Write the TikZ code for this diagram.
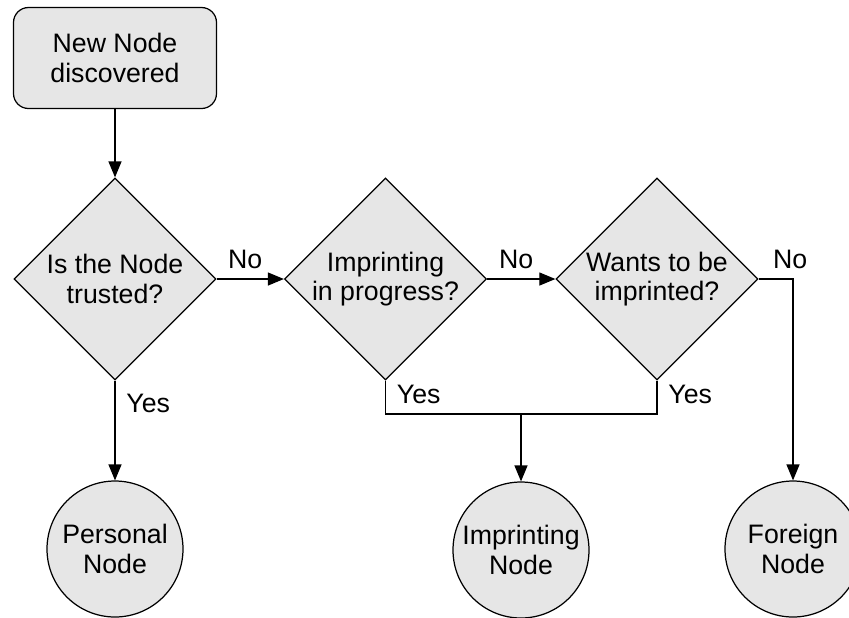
\documentclass[tikz,border=0pt]{standalone}
\usepackage{fontspec}
\setmainfont{Liberation Sans}
\usepackage{tikz}
\definecolor{flowgray}{RGB}{230,230,230}
\usetikzlibrary{arrows.meta,positioning,shapes.geometric,calc}

\begin{document}
\begin{tikzpicture}[line width=0.7pt, >={Triangle[length=0.32cm,width=0.26cm]},
  every node/.style={font=\fontsize{15.2}{16.6}\selectfont},
  startbox/.style={draw, fill=flowgray, rounded corners=0.3cm, minimum width=4.06cm, minimum height=2.02cm, align=center},
  decision/.style={draw, diamond, fill=flowgray, minimum width=4.04cm, minimum height=4.04cm, inner sep=0pt, align=center},
  endnode/.style={draw, circle, fill=flowgray, minimum size=2.72cm, inner sep=0pt, align=center}]
\useasboundingbox (0,0) rectangle (16.98,-12.34);
% Start
\node[startbox] (start) at (2.3,-1.16) {New Node\\discovered};
% Decisions
\node[decision] (trusted) at (2.3,-5.58) {Is the Node\\trusted?};
\node[decision] (inprog) at (7.71,-5.58) {Imprinting\\in progress?};
\node[decision] (wants) at (13.14,-5.58) {Wants to be\\imprinted?};
% Results
\node[endnode] (personal) at (2.3,-10.98) {Personal\\Node};
\node[endnode] (imprint) at (10.42,-11.0) {Imprinting\\Node};
\node[endnode] (foreign) at (15.86,-10.98) {Foreign\\Node};
\coordinate (join) at (10.42,-8.28);
% Connectors
\draw[->] (start) -- (trusted);
\draw[->] (trusted) -- node[above, xshift=-0.1cm, yshift=0.08cm]{No} (inprog);
\draw[->] (inprog) -- node[above, xshift=-0.1cm, yshift=0.08cm]{No} (wants);
\draw[->] (wants.east) -| node[pos=0.46, above, yshift=0.08cm]{No} (foreign.north);
\draw[->] (trusted.south) -- node[pos=0.23, right, xshift=0.1cm]{Yes} (personal.north);
\draw (inprog.south) |- node[pos=0.2, right, xshift=0.1cm]{Yes} (join);
\draw (wants.south) |- node[pos=0.2, right, xshift=0.1cm]{Yes} (join);
\draw[->] (join) -- (imprint.north);
\end{tikzpicture}
\end{document}
